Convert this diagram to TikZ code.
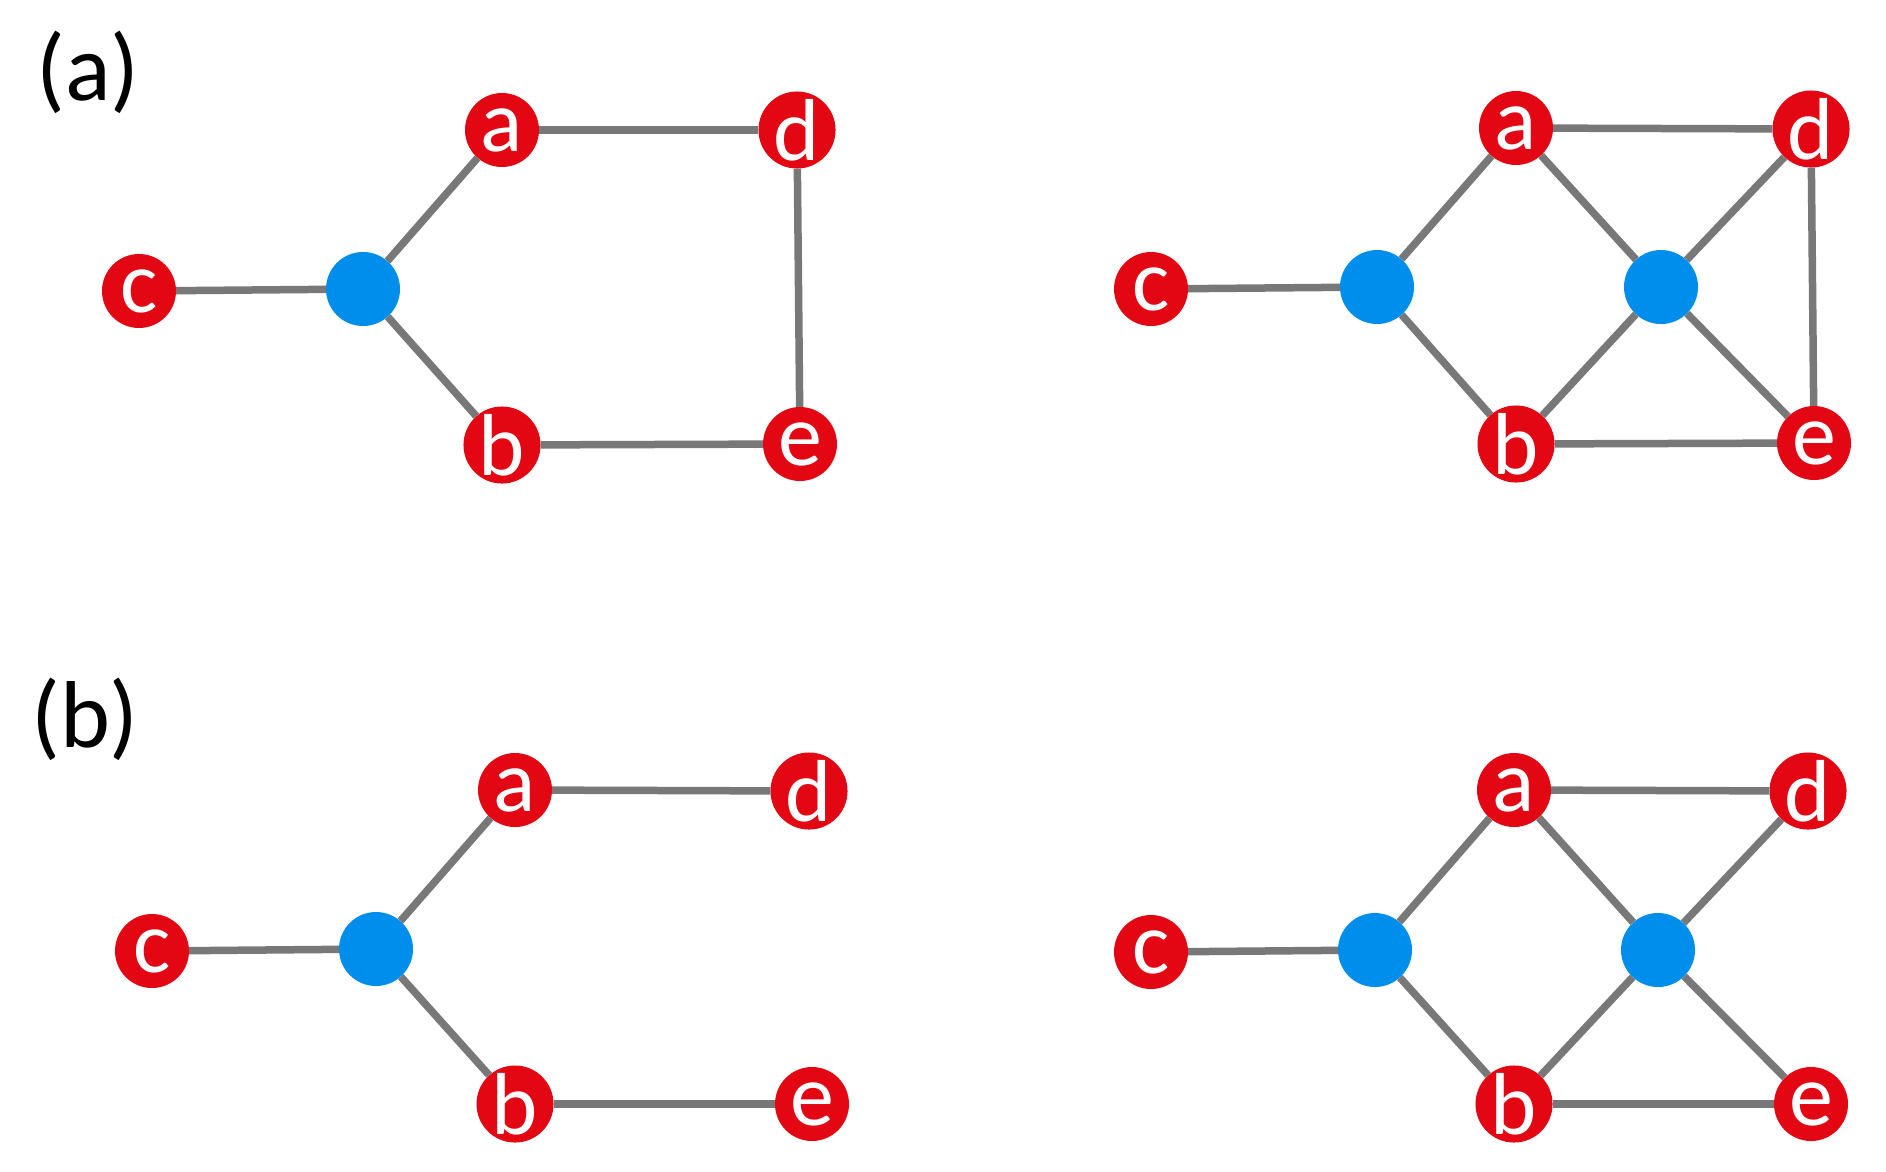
\documentclass[tikz,border=0pt]{standalone}
\usepackage{fontspec}
\setmainfont{Carlito}
\definecolor{nodered}{RGB}{227,6,19}
\definecolor{nodeblue}{RGB}{0,142,236}
\definecolor{edgegray}{RGB}{120,120,120}
\tikzset{
  rn/.style={circle, fill=nodered, text=white, minimum size=74pt, inner sep=0pt,
    font=\fontsize{88}{88}\selectfont},
  bn/.style={circle, fill=nodeblue, minimum size=74pt, inner sep=0pt},
  edge/.style={draw=edgegray, line width=7.5pt},
  panellabel/.style={font=\fontsize{95}{95}\selectfont, text=black, inner sep=0pt}
}
\begin{document}
\begin{tikzpicture}[x=1pt,y=-1pt]
\useasboundingbox[fill=white] (0,0) rectangle (1886,1171);
% labels
\node[panellabel] (la) at (88,72) {(a)};
\node[panellabel] (lb) at (85,719) {(b)};
% top-left
\node[rn] (A1c) at (139,291) {c};
\node[bn] (A1x) at (363,289) {};
\node[rn] (A1a) at (502,130) {a};
\node[rn] (A1d) at (797,130) {d};
\node[rn] (A1b) at (502,445) {b};
\node[rn] (A1e) at (800,444) {e};
\draw[edge] (A1c) -- (A1x);
\draw[edge] (A1x) -- (A1a);
\draw[edge] (A1x) -- (A1b);
\draw[edge] (A1a) -- (A1d);
\draw[edge] (A1d) -- (A1e);
\draw[edge] (A1b) -- (A1e);
% top-right
\node[rn] (A2c) at (1151,289) {c};
\node[bn] (A2x) at (1377,287) {};
\node[bn] (A2y) at (1661,287) {};
\node[rn] (A2a) at (1516,128) {a};
\node[rn] (A2d) at (1811,129) {d};
\node[rn] (A2b) at (1516,444) {b};
\node[rn] (A2e) at (1814,443) {e};
\draw[edge] (A2c) -- (A2x);
\draw[edge] (A2x) -- (A2a);
\draw[edge] (A2x) -- (A2b);
\draw[edge] (A2a) -- (A2y);
\draw[edge] (A2b) -- (A2y);
\draw[edge] (A2y) -- (A2d);
\draw[edge] (A2y) -- (A2e);
\draw[edge] (A2a) -- (A2d);
\draw[edge] (A2d) -- (A2e);
\draw[edge] (A2b) -- (A2e);
% bottom-left
\node[rn] (B1c) at (152,951) {c};
\node[bn] (B1x) at (376,949) {};
\node[rn] (B1a) at (515,790) {a};
\node[rn] (B1d) at (809,791) {d};
\node[rn] (B1b) at (515,1104) {b};
\node[rn] (B1e) at (812,1104) {e};
\draw[edge] (B1c) -- (B1x);
\draw[edge] (B1x) -- (B1a);
\draw[edge] (B1x) -- (B1b);
\draw[edge] (B1a) -- (B1d);
\draw[edge] (B1b) -- (B1e);
% bottom-right
\node[rn] (B2c) at (1151,952) {c};
\node[bn] (B2x) at (1375,950) {};
\node[bn] (B2y) at (1658,950) {};
\node[rn] (B2a) at (1514,790) {a};
\node[rn] (B2d) at (1808,791) {d};
\node[rn] (B2b) at (1514,1104) {b};
\node[rn] (B2e) at (1811,1104) {e};
\draw[edge] (B2c) -- (B2x);
\draw[edge] (B2x) -- (B2a);
\draw[edge] (B2x) -- (B2b);
\draw[edge] (B2a) -- (B2y);
\draw[edge] (B2b) -- (B2y);
\draw[edge] (B2y) -- (B2d);
\draw[edge] (B2y) -- (B2e);
\draw[edge] (B2a) -- (B2d);
\draw[edge] (B2b) -- (B2e);
\end{tikzpicture}
\end{document}
